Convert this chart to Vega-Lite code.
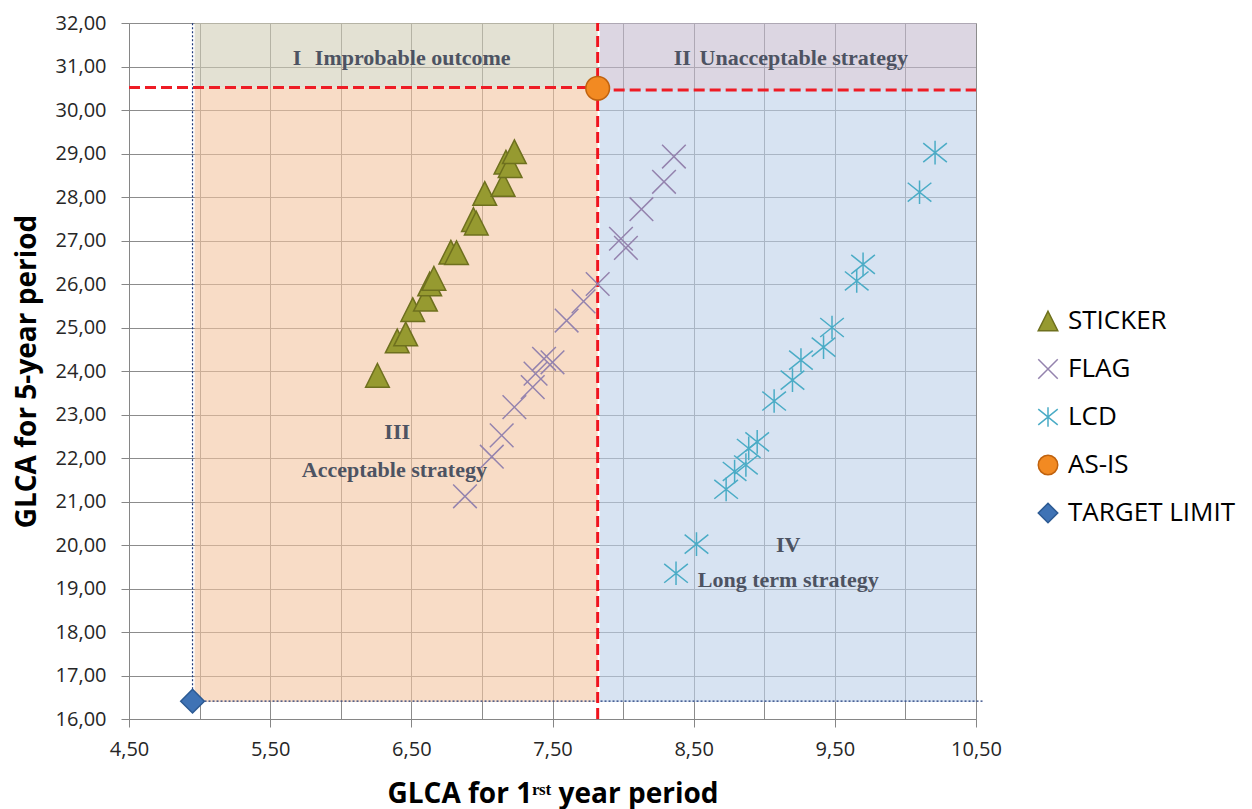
{
  "$schema": "https://vega.github.io/schema/vega-lite/v6.json",
  "width": 847,
  "height": 696,
  "autosize": {"type": "none"},
  "padding": {"left": 129, "top": 23, "right": 276, "bottom": 90},
  "background": "white",
  "config": {
    "view": {"stroke": null},
    "font": "Open Sans",
    "legend": {
      "orient": "none",
      "legendX": 906,
      "legendY": 285,
      "padding": 0,
      "labelFont": "Open Sans",
      "labelFontSize": 26,
      "labelColor": "#000000",
      "labelOffset": 7,
      "symbolSize": 380,
      "symbolStrokeWidth": 1.5,
      "rowPadding": 22,
      "labelLimit": 300
    }
  },
  "datasets": {
    "regions": [
      {"q": "I", "x": 4.965, "x2": 7.82, "y": 30.52, "y2": 32},
      {"q": "II", "x": 7.835, "x2": 10.5, "y": 30.46, "y2": 32},
      {"q": "III", "x": 4.965, "x2": 7.82, "y": 16.39, "y2": 30.52},
      {"q": "IV", "x": 7.835, "x2": 10.5, "y": 16.39, "y2": 30.46}
    ],
    "blueH": [{"x": 4.95, "x2": 10.55, "y": 16.41}],
    "blueV": [{"x": 4.95, "y": 16.41, "y2": 32}],
    "redH": [
      {"x": 4.5, "x2": 7.82, "y": 30.52},
      {"x": 7.82, "x2": 10.5, "y": 30.46}
    ],
    "redV": [{"x": 7.82, "y": 16, "y2": 32}],
    "labels": [
      {"label": "I", "x": 5.69, "y": 31.2},
      {"label": "Improbable outcome", "x": 6.51, "y": 31.2},
      {"label": "II", "x": 8.42, "y": 31.2},
      {"label": "Unacceptable strategy", "x": 9.28, "y": 31.2},
      {"label": "III", "x": 6.40, "y": 22.6},
      {"label": "Acceptable strategy", "x": 6.38, "y": 21.72},
      {"label": "IV", "x": 9.17, "y": 20.0},
      {"label": "Long term strategy", "x": 9.17, "y": 19.2}
    ],
    "points": [
      {"series": "STICKER", "x": 6.26, "y": 23.9},
      {"series": "STICKER", "x": 6.40, "y": 24.69},
      {"series": "STICKER", "x": 6.46, "y": 24.85},
      {"series": "STICKER", "x": 6.51, "y": 25.41},
      {"series": "STICKER", "x": 6.60, "y": 25.65},
      {"series": "STICKER", "x": 6.63, "y": 26.0},
      {"series": "STICKER", "x": 6.66, "y": 26.13},
      {"series": "STICKER", "x": 6.78, "y": 26.73},
      {"series": "STICKER", "x": 6.82, "y": 26.72},
      {"series": "STICKER", "x": 6.94, "y": 27.48},
      {"series": "STICKER", "x": 6.96, "y": 27.40},
      {"series": "STICKER", "x": 7.02, "y": 28.08},
      {"series": "STICKER", "x": 7.15, "y": 28.29},
      {"series": "STICKER", "x": 7.17, "y": 28.80},
      {"series": "STICKER", "x": 7.20, "y": 28.72},
      {"series": "STICKER", "x": 7.23, "y": 29.04},
      {"series": "FLAG", "x": 8.36, "y": 28.93},
      {"series": "FLAG", "x": 8.29, "y": 28.35},
      {"series": "FLAG", "x": 8.13, "y": 27.72},
      {"series": "FLAG", "x": 7.985, "y": 27.04},
      {"series": "FLAG", "x": 8.02, "y": 26.83},
      {"series": "FLAG", "x": 7.82, "y": 26.0},
      {"series": "FLAG", "x": 7.72, "y": 25.6},
      {"series": "FLAG", "x": 7.60, "y": 25.16},
      {"series": "FLAG", "x": 7.50, "y": 24.2},
      {"series": "FLAG", "x": 7.44, "y": 24.28},
      {"series": "FLAG", "x": 7.38, "y": 23.94},
      {"series": "FLAG", "x": 7.36, "y": 23.63},
      {"series": "FLAG", "x": 7.23, "y": 23.17},
      {"series": "FLAG", "x": 7.14, "y": 22.52},
      {"series": "FLAG", "x": 7.07, "y": 22.03},
      {"series": "FLAG", "x": 6.88, "y": 21.12},
      {"series": "LCD", "x": 10.21, "y": 29.02},
      {"series": "LCD", "x": 10.10, "y": 28.11},
      {"series": "LCD", "x": 9.70, "y": 26.45},
      {"series": "LCD", "x": 9.655, "y": 26.07},
      {"series": "LCD", "x": 9.48, "y": 25.0},
      {"series": "LCD", "x": 9.42, "y": 24.55},
      {"series": "LCD", "x": 9.26, "y": 24.25},
      {"series": "LCD", "x": 9.20, "y": 23.79},
      {"series": "LCD", "x": 9.07, "y": 23.31},
      {"series": "LCD", "x": 8.95, "y": 22.37},
      {"series": "LCD", "x": 8.89, "y": 22.22},
      {"series": "LCD", "x": 8.87, "y": 21.84},
      {"series": "LCD", "x": 8.79, "y": 21.69},
      {"series": "LCD", "x": 8.73, "y": 21.28},
      {"series": "LCD", "x": 8.52, "y": 20.02},
      {"series": "LCD", "x": 8.375, "y": 19.35},
      {"series": "AS-IS", "x": 7.82, "y": 30.5},
      {"series": "TARGET LIMIT", "x": 4.95, "y": 16.41}
    ]
  },
  "encoding": {
    "x": {
      "field": "x",
      "type": "quantitative",
      "scale": {"domain": [4.5, 10.5], "nice": false, "zero": false},
      "axis": {
        "values": [4.5, 5, 5.5, 6, 6.5, 7, 7.5, 8, 8.5, 9, 9.5, 10, 10.5],
        "labelExpr": "(datum.value - 4.5) % 1 == 0 ? replace(format(datum.value, '.2f'), '.', ',') : ''",
        "grid": true,
        "gridColor": "#8C8C8C",
        "gridWidth": 1,
        "tickSize": 8,
        "tickColor": "#868686",
        "tickOpacity": {"condition": {"test": "(datum.value - 4.5) % 1 == 0", "value": 1}, "value": 0},
        "domainColor": "#868686",
        "labelFont": "Open Sans",
        "labelFontSize": 20,
        "labelColor": "#262626",
        "labelPadding": 12,
        "labelFlush": false,
        "labelOverlap": false,
        "title": "GLCA for 1ʳˢᵗ year period",
        "titleFont": "Open Sans",
        "titleFontSize": 28,
        "titleFontWeight": "bold",
        "titleColor": "#000000",
        "titleX": 423.5,
        "titleY": 83,
        "titleBaseline": "alphabetic",
        "titleAlign": "center"
      }
    },
    "y": {
      "field": "y",
      "type": "quantitative",
      "scale": {"domain": [16, 32], "nice": false, "zero": false},
      "axis": {
        "values": [16, 17, 18, 19, 20, 21, 22, 23, 24, 25, 26, 27, 28, 29, 30, 31, 32],
        "labelExpr": "replace(format(datum.value, '.2f'), '.', ',')",
        "grid": true,
        "gridColor": "#8C8C8C",
        "gridWidth": 1,
        "tickSize": 8,
        "tickColor": "#868686",
        "domainColor": "#868686",
        "labelFont": "Open Sans",
        "labelFontSize": 20,
        "labelColor": "#262626",
        "labelPadding": 15,
        "labelFlush": false,
        "labelOverlap": false,
        "title": "GLCA for 5-year period",
        "titleFont": "Open Sans",
        "titleFontSize": 28,
        "titleFontWeight": "bold",
        "titleColor": "#000000",
        "titleAngle": 270,
        "titleX": -94,
        "titleY": 348,
        "titleBaseline": "alphabetic",
        "titleAlign": "center"
      }
    }
  },
  "layer": [
    {
      "data": {"name": "regions"},
      "mark": {"type": "rect", "opacity": 0.6},
      "encoding": {
        "x2": {"field": "x2"},
        "y2": {"field": "y2"},
        "color": {
          "field": "q",
          "type": "nominal",
          "scale": {"domain": ["I", "II", "III", "IV"], "range": ["#D0CDB6", "#C5BBCF", "#F3C5A0", "#BCD0E9"]},
          "legend": null
        }
      }
    },
    {
      "data": {"name": "blueH"},
      "mark": {"type": "rule", "color": "#1F3A7A", "strokeWidth": 1.2, "strokeDash": [2, 2]},
      "encoding": {"x2": {"field": "x2"}}
    },
    {
      "data": {"name": "blueV"},
      "mark": {"type": "rule", "color": "#1F3A7A", "strokeWidth": 1.2, "strokeDash": [2, 2]},
      "encoding": {"y2": {"field": "y2"}}
    },
    {
      "data": {"name": "redH"},
      "mark": {"type": "rule", "color": "#EE1C25", "strokeWidth": 3, "strokeDash": [11, 5]},
      "encoding": {"x2": {"field": "x2"}}
    },
    {
      "data": {"name": "redV"},
      "mark": {"type": "rule", "color": "#F0141E", "strokeWidth": 3, "strokeDash": [11, 5]},
      "encoding": {"y2": {"field": "y2"}}
    },
    {
      "data": {"name": "labels"},
      "mark": {"type": "text", "font": "Liberation Serif", "fontSize": 22, "fontWeight": "bold", "color": "#4D5362", "align": "center", "baseline": "middle"},
      "encoding": {"text": {"field": "label", "type": "nominal"}}
    },
    {
      "data": {"name": "points"},
      "mark": {"type": "point", "filled": false, "size": 560, "strokeWidth": 1.5, "opacity": 1},
      "encoding": {
        "shape": {
          "field": "series",
          "type": "nominal",
          "scale": {
            "domain": ["STICKER", "FLAG", "LCD", "AS-IS", "TARGET LIMIT"],
            "range": ["M0,-1L1,1L-1,1Z", "M-1,-1L1,1M-1,1L1,-1", "M0,-1L0,1M-1,-0.8L1,0.8M-1,0.8L1,-0.8", "circle", "diamond"]
          },
          "legend": {"title": null}
        },
        "fill": {
          "field": "series",
          "type": "nominal",
          "scale": {
            "domain": ["STICKER", "FLAG", "LCD", "AS-IS", "TARGET LIMIT"],
            "range": ["#969A30", "transparent", "transparent", "#F28A22", "#3F73B5"]
          },
          "legend": {"title": null}
        },
        "stroke": {
          "field": "series",
          "type": "nominal",
          "scale": {
            "domain": ["STICKER", "FLAG", "LCD", "AS-IS", "TARGET LIMIT"],
            "range": ["#6E701E", "#9483AE", "#4BACC6", "#C0620E", "#2C5A93"]
          },
          "legend": {"title": null}
        }
      }
    }
  ]
}
